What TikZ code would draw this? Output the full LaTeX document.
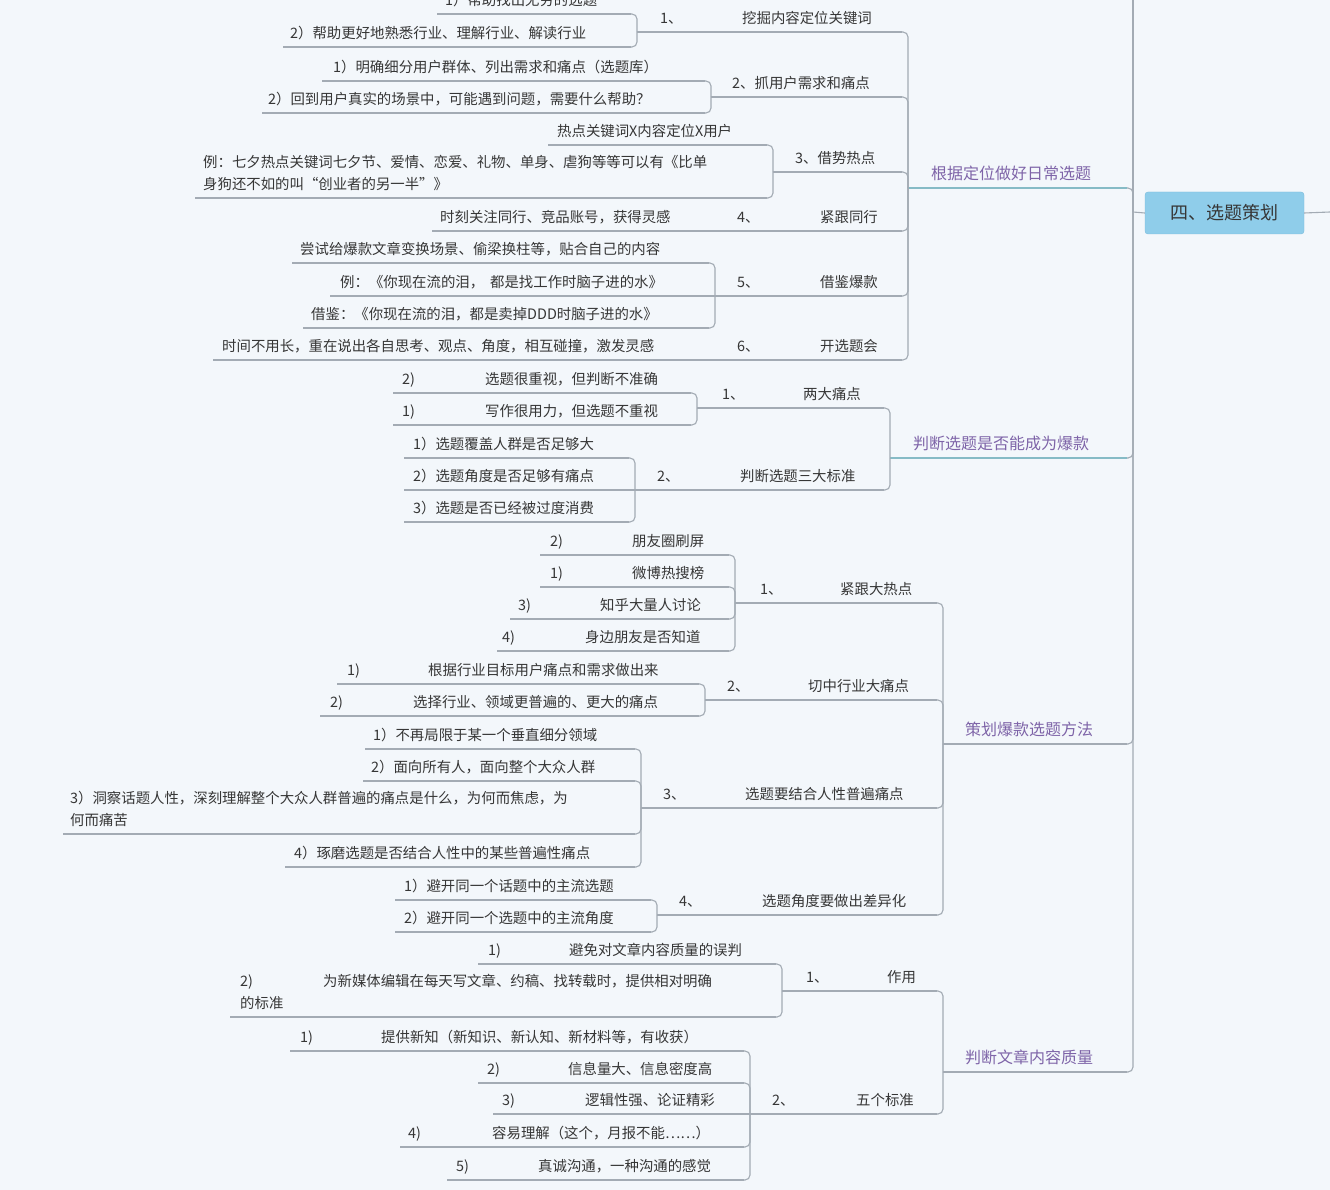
\documentclass[tikz,border=0pt]{standalone}
\usepackage{fontspec}
\newfontfamily\cjk{Noto Sans CJK SC}
\definecolor{bgcol}{HTML}{F3F7FB}
\definecolor{linecol}{HTML}{A3ABB4}
\definecolor{txtcol}{HTML}{363636}
\definecolor{maincol}{HTML}{7E64A8}
\definecolor{tealcol}{HTML}{86BBC6}
\definecolor{rootfill}{HTML}{8FCDEA}
\definecolor{rootdraw}{HTML}{7CBCDB}
\newcommand\pre[2]{\makebox[#1pt][l]{#2}}
\newcommand\topicnode[7][]{%
  \coordinate (#2-l) at (#3,#5);
  \coordinate (#2-r) at (#4,#5);
  \node[txt,#1] (#2) at (#6,#5-5) {#7};
  \draw[uline] (#2-l) -- (#2-r);
}
\tikzset{
  txt/.style={anchor=south west, inner sep=0pt, text depth=3pt,
    font=\cjk\fontsize{14.4}{22}\selectfont, align=left, text=txtcol},
  maintxt/.style={font=\cjk\fontsize{16}{20}\selectfont, text=maincol},
  uline/.style={draw=linecol, line width=1.1pt},
  conn/.style={draw=linecol, line width=1.1pt, rounded corners=5pt},
  rootbox/.style={draw=rootdraw, fill=rootfill, rounded corners=3pt,
    minimum width=159pt, minimum height=42pt, inner sep=0pt,
    font=\cjk\fontsize{18}{20}\selectfont, text=txtcol}
}
\begin{document}
\begin{tikzpicture}[x=1pt,y=-1pt]
\useasboundingbox (0,0) rectangle (1330,1190);
\fill[bgcol] (0,0) rectangle (1330,1190);

% root
\node[rootbox] (root) at (1224.5,213) {四、选题策划};
\coordinate (root-l) at (1133,212);
\coordinate (trunktop) at (1133,0);
\coordinate (rootout) at (1330,212);
\draw[uline] (root.west) -- (root-l);
\draw[uline] (root.east) -- (rootout);
\draw[uline] (root-l) -- (trunktop);

% ---------- A ----------
\topicnode[maintxt]{A}{908}{1127}{188}{931}{根据定位做好日常选题}
\draw[uline,draw=tealcol] (A-l) -- (A-r);
\topicnode{A1}{637}{902}{32}{660}{\pre{82}{1、}挖掘内容定位关键词}
\topicnode{A1a}{437}{631}{14}{445}{1）帮助找出无穷的选题}
\topicnode{A1b}{283}{631}{47}{290}{2）帮助更好地熟悉行业、理解行业、解读行业}
\topicnode{A2}{711}{902}{97}{732}{2、抓用户需求和痛点}
\topicnode{A2a}{322}{705}{81}{333}{1）明确细分用户群体、列出需求和痛点（选题库）}
\topicnode{A2b}{262}{705}{113}{268}{2）回到用户真实的场景中，可能遇到问题，需要什么帮助？}
\topicnode{A3}{773}{902}{172}{795}{3、借势热点}
\topicnode{A3a}{548}{767}{145}{557}{热点关键词X内容定位X用户}
\topicnode{A3b}{195}{767}{198}{203}{例：七夕热点关键词七夕节、爱情、恋爱、礼物、单身、虐狗等等可以有《比单\\身狗还不如的叫“创业者的另一半”》}
\topicnode{A4}{715}{902}{231}{737}{\pre{83}{4、}紧跟同行}
\topicnode{A4a}{432}{709}{231}{440}{时刻关注同行、竞品账号，获得灵感}
\topicnode{A5}{715}{902}{296}{737}{\pre{83}{5、}借鉴爆款}
\topicnode{A5a}{292}{709}{263}{300}{尝试给爆款文章变换场景、偷梁换柱等，贴合自己的内容}
\topicnode{A5b}{330}{709}{296}{340}{例：《你现在流的泪，\hspace{6pt}都是找工作时脑子进的水》}
\topicnode{A5c}{303}{709}{328}{311}{借鉴：《你现在流的泪，都是卖掉DDD时脑子进的水》}
\topicnode{A6}{715}{902}{360}{737}{\pre{83}{6、}开选题会}
\topicnode{A6a}{213}{709}{360}{222}{时间不用长，重在说出各自思考、观点、角度，相互碰撞，激发灵感}

% ---------- B ----------
\topicnode[maintxt]{B}{890}{1127}{458}{913}{判断选题是否能成为爆款}
\draw[uline,draw=tealcol] (B-l) -- (B-r);
\topicnode{B1}{697}{884}{408}{722}{\pre{81}{1、}两大痛点}
\topicnode{B1a}{393}{691}{393}{402}{\pre{83}{2)}选题很重视，但判断不准确}
\topicnode{B1b}{393}{691}{425}{402}{\pre{83}{1)}写作很用力，但选题不重视}
\topicnode{B2}{635}{884}{490}{657}{\pre{83}{2、}判断选题三大标准}
\topicnode{B2a}{404}{629}{458}{413}{1）选题覆盖人群是否足够大}
\topicnode{B2b}{404}{629}{490}{413}{2）选题角度是否足够有痛点}
\topicnode{B2c}{404}{629}{522}{413}{3）选题是否已经被过度消费}

% ---------- C ----------
\topicnode[maintxt]{C}{943}{1127}{744}{965}{策划爆款选题方法}
\topicnode{C1}{735}{937}{603}{760}{\pre{80}{1、}紧跟大热点}
\topicnode{C1a}{540}{729}{555}{550}{\pre{82}{2)}朋友圈刷屏}
\topicnode{C1b}{540}{729}{587}{550}{\pre{82}{1)}微博热搜榜}
\topicnode{C1c}{510}{729}{619}{518}{\pre{82}{3)}知乎大量人讨论}
\topicnode{C1d}{497}{729}{651}{502}{\pre{83}{4)}身边朋友是否知道}
\topicnode{C2}{705}{937}{700}{727}{\pre{81}{2、}切中行业大痛点}
\topicnode{C2a}{337}{699}{684}{347}{\pre{81}{1)}根据行业目标用户痛点和需求做出来}
\topicnode{C2b}{320}{699}{716}{330}{\pre{83}{2)}选择行业、领域更普遍的、更大的痛点}
\topicnode{C3}{641}{937}{808}{663}{\pre{82}{3、}选题要结合人性普遍痛点}
\topicnode{C3a}{365}{635}{749}{373}{1）不再局限于某一个垂直细分领域}
\topicnode{C3b}{363}{635}{781}{371}{2）面向所有人，面向整个大众人群}
\topicnode{C3c}{63}{635}{834}{70}{3）洞察话题人性，深刻理解整个大众人群普遍的痛点是什么，为何而焦虑，为\\何而痛苦}
\topicnode{C3d}{285}{635}{867}{294}{4）琢磨选题是否结合人性中的某些普遍性痛点}
\topicnode{C4}{657}{937}{915}{679}{\pre{83}{4、}选题角度要做出差异化}
\topicnode{C4a}{395}{651}{900}{404}{1）避开同一个话题中的主流选题}
\topicnode{C4b}{395}{651}{932}{404}{2）避开同一个选题中的主流角度}

% ---------- D ----------
\topicnode[maintxt]{D}{943}{1127}{1072}{965}{判断文章内容质量}
\topicnode{D1}{782}{937}{991}{806}{\pre{81}{1、}作用}
\topicnode{D1a}{478}{776}{964}{488}{\pre{81}{1)}避免对文章内容质量的误判}
\topicnode{D1b}{230}{776}{1017}{240}{\pre{83}{2)}为新媒体编辑在每天写文章、约稿、找转载时，提供相对明确\\的标准}
\topicnode{D2}{750}{937}{1114}{772}{\pre{84}{2、}五个标准}
\topicnode{D2a}{290}{744}{1051}{300}{\pre{81}{1)}提供新知（新知识、新认知、新材料等，有收获）}
\topicnode{D2b}{478}{744}{1083}{487}{\pre{81}{2)}信息量大、信息密度高}
\topicnode{D2c}{493}{744}{1114}{502}{\pre{83}{3)}逻辑性强、论证精彩}
\topicnode{D2d}{400}{744}{1147}{408}{\pre{84}{4)}容易理解（这个，月报不能……）}
\topicnode{D2e}{447}{744}{1180}{456}{\pre{82}{5)}真诚沟通，一种沟通的感觉}

% ---------- connectors ----------
\foreach \p/\c in {root/A, root/B, root/C, root/D,
  A/A1, A/A2, A/A3, A/A4, A/A5, A/A6,
  A1/A1a, A1/A1b, A2/A2a, A2/A2b, A3/A3a, A3/A3b, A5/A5a, A5/A5c,
  B/B1, B/B2, B1/B1a, B1/B1b, B2/B2a, B2/B2c,
  C/C1, C/C2, C/C3, C/C4,
  C1/C1a, C1/C1b, C1/C1c, C1/C1d, C2/C2a, C2/C2b,
  C3/C3a, C3/C3b, C3/C3c, C3/C3d, C4/C4a, C4/C4b,
  D/D1, D/D2, D1/D1a, D1/D1b, D2/D2a, D2/D2b, D2/D2d, D2/D2e}
  \draw[conn] (\p-l) |- (\c-r);
\foreach \p/\c in {A4/A4a, A5/A5b, A6/A6a, B2/B2b, D2/D2c}
  \draw[uline] (\p-l) -- (\c-r);
\end{tikzpicture}
\end{document}
